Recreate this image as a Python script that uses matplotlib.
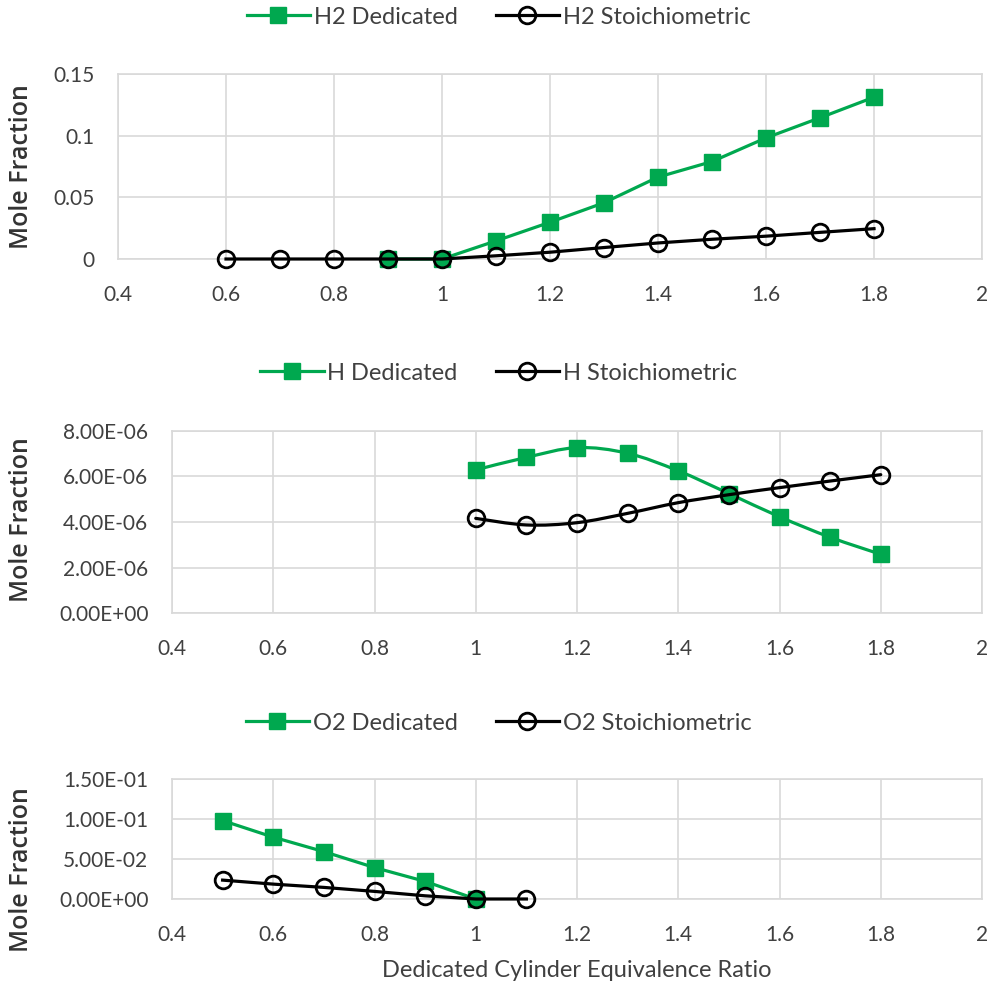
import matplotlib
matplotlib.use("Agg")
import matplotlib.pyplot as plt
from matplotlib.lines import Line2D
from matplotlib.path import Path
from matplotlib.patches import PathPatch
from matplotlib.ticker import FixedLocator, FuncFormatter
import numpy as np

# ---- data -------------------------------------------------------------
h2_ded_x = [0.9, 1.0, 1.1, 1.2, 1.3, 1.4, 1.5, 1.6, 1.7, 1.8]
h2_ded_y = [0.0, 0.0, 0.0147, 0.0298, 0.0456, 0.0664, 0.0790, 0.0982, 0.1145, 0.1312]
h2_sto_x = [0.6, 0.7, 0.8, 0.9, 1.0, 1.1, 1.2, 1.3, 1.4, 1.5, 1.6, 1.7, 1.8]
h2_sto_y = [0.0, 0.0, 0.0, 0.0, 0.0, 0.0026, 0.0055, 0.0093, 0.0130, 0.0160, 0.0185, 0.0216, 0.0246]

h_ded_x = [1.0, 1.1, 1.2, 1.3, 1.4, 1.5, 1.6, 1.7, 1.8]
h_ded_y = [6.29e-6, 6.84e-6, 7.27e-6, 7.02e-6, 6.25e-6, 5.25e-6, 4.23e-6, 3.33e-6, 2.58e-6]
h_sto_x = [1.0, 1.1, 1.2, 1.3, 1.4, 1.5, 1.6, 1.7, 1.8]
h_sto_y = [4.16e-6, 3.87e-6, 3.97e-6, 4.38e-6, 4.85e-6, 5.20e-6, 5.51e-6, 5.80e-6, 6.08e-6]

o2_ded_x = [0.5, 0.6, 0.7, 0.8, 0.9, 1.0]
o2_ded_y = [0.0980, 0.0773, 0.0592, 0.0393, 0.0220, 0.0]
o2_sto_x = [0.5, 0.6, 0.7, 0.8, 0.9, 1.0, 1.1]
o2_sto_y = [0.0236, 0.0186, 0.0145, 0.0095, 0.0040, 0.0, 0.0]

x_ticks = [0.4, 0.6, 0.8, 1.0, 1.2, 1.4, 1.6, 1.8, 2.0]
h2_yticks = [0, 0.05, 0.10, 0.15]
h_yticks = [0, 2e-6, 4e-6, 6e-6, 8e-6]
o2_yticks = [0, 0.05, 0.10, 0.15]

series_names = [("H2 Dedicated", "H2 Stoichiometric"),
                ("H Dedicated", "H Stoichiometric"),
                ("O2 Dedicated", "O2 Stoichiometric")]

# ---- style ------------------------------------------------------------
GREEN = "#00A84F"
BLACK = "#000000"
GRID = "#D9D9D9"
TICKC = "#404040"
TICK_FONT = ["Lato", "DejaVu Sans"]
LABEL_FONT = ["Open Sans", "DejaVu Sans"]

W = H = 997
fig = plt.figure(figsize=(W / 100, H / 100), dpi=100)


def fx(px):
    return px / W


def fy(py):
    return 1 - py / H


def smooth_path(xs, ys):
    """Cubic Bezier through the points (Catmull-Rom style control points)."""
    pts = np.column_stack([xs, ys]).astype(float)
    n = len(pts)
    verts = [pts[0]]
    codes = [Path.MOVETO]
    for i in range(n - 1):
        p0 = pts[i - 1] if i > 0 else pts[i]
        p1 = pts[i]
        p2 = pts[i + 1]
        p3 = pts[i + 2] if i + 2 < n else pts[i + 1]
        c1 = p1 + (p2 - p0) / 6.0
        c2 = p2 - (p3 - p1) / 6.0
        verts += [c1, c2, p2]
        codes += [Path.CURVE4] * 3
    return Path(verts, codes)


def draw_series(ax, xs, ys, color, marker, smooth, z):
    if smooth:
        ax.add_patch(PathPatch(smooth_path(xs, ys), fill=False, edgecolor=color,
                               lw=2.3, zorder=z, capstyle="round", joinstyle="round"))
        ls = "none"
    else:
        ls = "-"
    if marker == "s":
        ax.plot(xs, ys, ls=ls, color=color, lw=2.3, marker="s", ms=12,
                mfc=color, mec=color, zorder=z + 0.5)
    else:
        ax.plot(xs, ys, ls=ls, color=color, lw=2.3, marker="o", ms=12,
                mfc="none", mec=color, mew=2.0, zorder=z + 0.5)


def setup_axes(rect, yticks, ylim, yfmt):
    ax = fig.add_axes(rect)
    ax.set_xlim(0.4, 2.0)
    ax.set_ylim(*ylim)
    ax.xaxis.set_major_locator(FixedLocator(x_ticks))
    ax.yaxis.set_major_locator(FixedLocator(yticks))
    ax.xaxis.set_major_formatter(FuncFormatter(lambda v, p: f"{v:g}"))
    ax.yaxis.set_major_formatter(FuncFormatter(yfmt))
    ax.grid(True, color=GRID, lw=1.2, zorder=0)
    ax.set_axisbelow(True)
    for s in ax.spines.values():
        s.set_color(GRID)
        s.set_linewidth(1.2)
    ax.tick_params(length=0, colors=TICKC, labelsize=15)
    ax.tick_params(axis="x", pad=19)
    ax.tick_params(axis="y", pad=17)
    for lab in ax.get_xticklabels() + ax.get_yticklabels():
        lab.set_family(TICK_FONT)
    return ax


def add_legend(ax, names, y_px):
    handles = [
        Line2D([], [], color=GREEN, lw=2.3, marker="s", ms=12, mfc=GREEN, mec=GREEN),
        Line2D([], [], color=BLACK, lw=2.3, marker="o", ms=12, mfc="none",
               mec=BLACK, mew=2.0),
    ]
    leg = ax.legend(handles, names, loc="center", bbox_to_anchor=(0.5, fy(y_px)),
                    bbox_transform=fig.transFigure, ncol=2, frameon=False,
                    handlelength=2.7, handletextpad=0.15, columnspacing=1.6,
                    prop={"family": TICK_FONT, "size": 17})
    for t in leg.get_texts():
        t.set_color(TICKC)


def ylabel(y_px):
    fig.text(fx(22), fy(y_px), "Mole Fraction", rotation=90, ha="center",
             va="center", fontsize=18, family=LABEL_FONT, color="#333333",
             fontweight="semibold")


# ---- panel 1: H2 ------------------------------------------------------
ax1 = setup_axes([fx(118), fy(259), fx(982 - 118), (259 - 74) / H],
                 h2_yticks, (0, 0.15), lambda v, p: f"{v:g}")
draw_series(ax1, h2_ded_x, h2_ded_y, GREEN, "s", False, 3)
draw_series(ax1, h2_sto_x, h2_sto_y, BLACK, "o", False, 4)
add_legend(ax1, series_names[0], 17)
ylabel(167)

# ---- panel 2: H -------------------------------------------------------
ax2 = setup_axes([fx(172), fy(613), fx(982 - 172), (613 - 431) / H],
                 h_yticks, (0, 8e-6), lambda v, p: f"{v:.2E}")
draw_series(ax2, h_ded_x, h_ded_y, GREEN, "s", True, 3)
draw_series(ax2, h_sto_x, h_sto_y, BLACK, "o", True, 4)
add_legend(ax2, series_names[1], 373)
ylabel(520)

# ---- panel 3: O2 ------------------------------------------------------
ax3 = setup_axes([fx(172), fy(899), fx(982 - 172), (899 - 779) / H],
                 o2_yticks, (0, 0.15), lambda v, p: f"{v:.2E}")
draw_series(ax3, o2_ded_x, o2_ded_y, GREEN, "s", False, 3)
draw_series(ax3, o2_sto_x, o2_sto_y, BLACK, "o", False, 4)
add_legend(ax3, series_names[2], 723)
ylabel(870)

for ax in (ax1, ax2, ax3):
    for ln in ax.lines:
        ln.set_clip_on(False)

fig.text(fx(577), fy(970), "Dedicated Cylinder Equivalence Ratio", ha="center",
         va="center", fontsize=17, family=TICK_FONT, color=TICKC)

fig.savefig("out.png", dpi=100, facecolor="white")
